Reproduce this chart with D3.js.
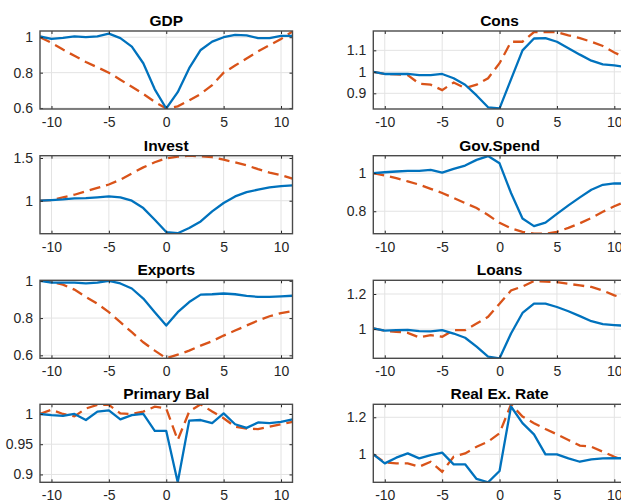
<!DOCTYPE html>
<html lang="en">
<head>
<meta charset="UTF-8">
<title>Impulse responses</title>
<style>
  body { margin: 0; background: #fff; }
  svg { display: block; font-family: "Liberation Sans", Arial, Helvetica, sans-serif; }
</style>
</head>
<body>
<div id="chart"></div>
<script src="https://d3js.org/d3.v7.min.js"></script>
<script>
// horizon -11 .. 11
var periods = d3.range(-11, 12);

var titles = ["GDP", "Cons", "Invest", "Gov.Spend", "Exports", "Loans", "Primary Bal", "Real Ex. Rate"];

// solid blue series
var gdpSolid = [1.004, 0.99, 0.996, 1.005, 1.0, 1.005, 1.02, 0.995, 0.947, 0.853, 0.706, 0.598, 0.69, 0.825, 0.928, 0.975, 1.0, 1.013, 1.01, 0.995, 0.995, 1.008, 1.008];
var consSolid = [1.0, 0.99, 0.99, 0.99, 0.985, 0.985, 0.99, 0.97, 0.94, 0.89, 0.835, 0.83, 0.965, 1.1, 1.155, 1.157, 1.14, 1.11, 1.08, 1.052, 1.035, 1.03, 1.022];
var investSolid = [1.0, 1.008, 1.016, 1.027, 1.03, 1.04, 1.05, 1.04, 1.0, 0.914, 0.777, 0.633, 0.62, 0.68, 0.758, 0.875, 0.973, 1.05, 1.1, 1.13, 1.156, 1.17, 1.18];
var govSolid = [1.0, 1.005, 1.009, 1.012, 1.012, 1.017, 1.003, 1.023, 1.04, 1.07, 1.09, 1.052, 0.896, 0.762, 0.722, 0.74, 0.786, 0.831, 0.873, 0.913, 0.939, 0.946, 0.946];
var exportsSolid = [1.0, 0.991, 0.99, 0.991, 0.987, 0.991, 1.0, 0.986, 0.959, 0.905, 0.832, 0.76, 0.832, 0.886, 0.926, 0.928, 0.932, 0.928, 0.919, 0.914, 0.914, 0.917, 0.92];
var loansSolid = [1.004, 0.992, 0.994, 0.996, 0.989, 0.987, 0.994, 0.975, 0.951, 0.9, 0.843, 0.834, 0.975, 1.092, 1.145, 1.145, 1.126, 1.102, 1.074, 1.045, 1.028, 1.023, 1.019];
var primSolid = [1.0, 0.998, 0.997, 1.0, 0.99, 1.004, 1.006, 0.991, 0.998, 1.0, 0.972, 0.972, 0.887, 0.989, 0.99, 0.985, 1.001, 0.983, 0.977, 0.986, 0.985, 0.987, 0.991];
var rerSolid = [1.0, 0.951, 0.982, 1.005, 0.978, 0.996, 1.009, 0.946, 0.946, 0.867, 0.849, 0.91, 1.258, 1.168, 1.108, 1.0, 1.0, 0.978, 0.96, 0.973, 0.978, 0.98, 0.978];

// dashed orange series
var gdpDashed = [1.0, 0.968, 0.93, 0.895, 0.86, 0.83, 0.8, 0.76, 0.72, 0.68, 0.635, 0.598, 0.61, 0.643, 0.68, 0.73, 0.8, 0.84, 0.88, 0.92, 0.955, 0.99, 1.032];
var consDashed = [1.0, 0.99, 0.988, 0.985, 0.945, 0.94, 0.915, 0.95, 0.925, 0.94, 0.97, 1.04, 1.14, 1.14, 1.185, 1.185, 1.185, 1.17, 1.157, 1.14, 1.12, 1.09, 1.065];
var investDashed = [1.0, 1.008, 1.04, 1.07, 1.11, 1.15, 1.19, 1.246, 1.32, 1.39, 1.45, 1.496, 1.516, 1.527, 1.52, 1.51, 1.48, 1.45, 1.414, 1.37, 1.33, 1.3, 1.258];
var govDashed = [1.0, 0.988, 0.974, 0.957, 0.94, 0.918, 0.896, 0.87, 0.843, 0.817, 0.78, 0.739, 0.71, 0.692, 0.682, 0.682, 0.692, 0.713, 0.737, 0.765, 0.797, 0.826, 0.852];
var exportsDashed = [1.003, 0.995, 0.98, 0.953, 0.914, 0.877, 0.832, 0.778, 0.724, 0.67, 0.625, 0.584, 0.604, 0.625, 0.652, 0.676, 0.706, 0.733, 0.76, 0.787, 0.81, 0.827, 0.838];
var loansDashed = [1.004, 0.99, 0.985, 0.979, 0.953, 0.966, 0.957, 0.994, 0.994, 1.032, 1.07, 1.145, 1.22, 1.243, 1.274, 1.27, 1.268, 1.258, 1.249, 1.24, 1.22, 1.192, 1.174];
var primDashed = [1.0, 1.007, 1.0, 0.996, 1.009, 1.015, 1.015, 1.001, 1.0, 1.004, 1.012, 1.009, 0.957, 1.004, 1.016, 1.004, 0.993, 0.979, 0.976, 0.975, 0.979, 0.983, 0.987];
var rerDashed = [1.0, 0.957, 0.951, 0.951, 0.933, 0.96, 0.906, 0.987, 1.005, 1.041, 1.068, 1.114, 1.27, 1.204, 1.168, 1.137, 1.108, 1.077, 1.047, 1.041, 1.014, 0.987, 0.964];

var solidSeries = [gdpSolid, consSolid, investSolid, govSolid, exportsSolid, loansSolid, primSolid, rerSolid];
var dashedSeries = [gdpDashed, consDashed, investDashed, govDashed, exportsDashed, loansDashed, primDashed, rerDashed];

// axis limits and ticks
var yLimits = [[0.595, 1.035], [0.827, 1.19], [0.614, 1.527], [0.682, 1.092], [0.584, 1.003], [0.834, 1.278], [0.887, 1.016], [0.849, 1.27]];
var yTicks = [[0.6, 0.8, 1], [0.9, 1, 1.1], [1, 1.5], [0.8, 1], [0.6, 0.8, 1], [1, 1.2], [0.9, 0.95, 1], [1, 1.2]];
var xTicks = [-10, -5, 0, 5, 10];

var W = 621, H = 501;
var colLeft = [40, 373.3], plotW = 252.5;
var rowTop = [31, 155.7, 280.3, 404.3], plotH = 78;
var TICK = 3;

var svg = d3.select("#chart").append("svg")
  .attr("width", W)
  .attr("height", H);

svg.append("rect").attr("width", W).attr("height", H).attr("fill", "#fff");

titles.forEach(function(title, i) {
  var col = i % 2, row = Math.floor(i / 2);
  var x0 = colLeft[col], y0 = rowTop[row];

  var x = d3.scaleLinear().domain([-11, 11]).range([0, plotW]);
  var y = d3.scaleLinear().domain(yLimits[i]).range([plotH, 0]);

  var g = svg.append("g").attr("transform", "translate(" + x0 + "," + y0 + ")");

  g.append("clipPath").attr("id", "clip" + i)
    .append("rect").attr("width", plotW).attr("height", plotH);

  // grid
  g.selectAll(".gx").data(xTicks).enter().append("line")
    .attr("x1", d => x(d)).attr("x2", d => x(d))
    .attr("y1", 0).attr("y2", plotH)
    .attr("stroke", "#e3e3e3").attr("stroke-width", 1);
  g.selectAll(".gy").data(yTicks[i]).enter().append("line")
    .attr("x1", 0).attr("x2", plotW)
    .attr("y1", d => y(d)).attr("y2", d => y(d))
    .attr("stroke", "#e3e3e3").attr("stroke-width", 1);

  var line = d3.line()
    .x(function(d, k) { return x(periods[k]); })
    .y(function(d) { return y(d); });

  var lines = g.append("g").attr("clip-path", "url(#clip" + i + ")");
  lines.append("path")
    .attr("d", line(dashedSeries[i]))
    .attr("fill", "none")
    .attr("stroke", "#D95319")
    .attr("stroke-width", 2.3)
    .attr("stroke-dasharray", "11,6");
  lines.append("path")
    .attr("d", line(solidSeries[i]))
    .attr("fill", "none")
    .attr("stroke", "#0072BD")
    .attr("stroke-width", 2.3)
    .attr("stroke-linejoin", "round");

  // axes: bottom with labels, left with labels, plus inward ticks on all sides
  var xAxis = d3.axisBottom(x).tickValues(xTicks).tickSizeInner(-TICK).tickSizeOuter(0).tickPadding(8)
    .tickFormat(d => String(d));
  var xa = g.append("g").attr("transform", "translate(0," + plotH + ")").call(xAxis);
  var yAxis = d3.axisLeft(y).tickValues(yTicks[i]).tickSizeInner(-TICK).tickSizeOuter(0).tickPadding(7)
    .tickFormat(d => String(d));
  var ya = g.append("g").call(yAxis);
  var xt = g.append("g").call(d3.axisTop(x).tickValues(xTicks).tickSizeInner(-TICK).tickSizeOuter(0).tickFormat(""));
  var yr = g.append("g").attr("transform", "translate(" + plotW + ",0)")
    .call(d3.axisRight(y).tickValues(yTicks[i]).tickSizeInner(-TICK).tickSizeOuter(0).tickFormat(""));

  [xa, ya, xt, yr].forEach(function(a) {
    a.select(".domain").remove();
    a.selectAll(".tick line").attr("stroke", "#262626").attr("stroke-width", 1);
    a.selectAll(".tick text").attr("fill", "#262626").style("font-size", "14px")
      .style("font-family", "'Liberation Sans', Arial, sans-serif");
  });

  // box
  g.append("rect")
    .attr("width", plotW).attr("height", plotH)
    .attr("fill", "none")
    .attr("stroke", "#4a4a4a")
    .attr("stroke-width", 1.4);

  g.append("text")
    .attr("x", plotW / 2)
    .attr("y", -5)
    .attr("text-anchor", "middle")
    .attr("fill", "#000")
    .style("font-size", "15.5px")
    .style("font-weight", "bold")
    .text(title);
});
</script>
</body>
</html>
